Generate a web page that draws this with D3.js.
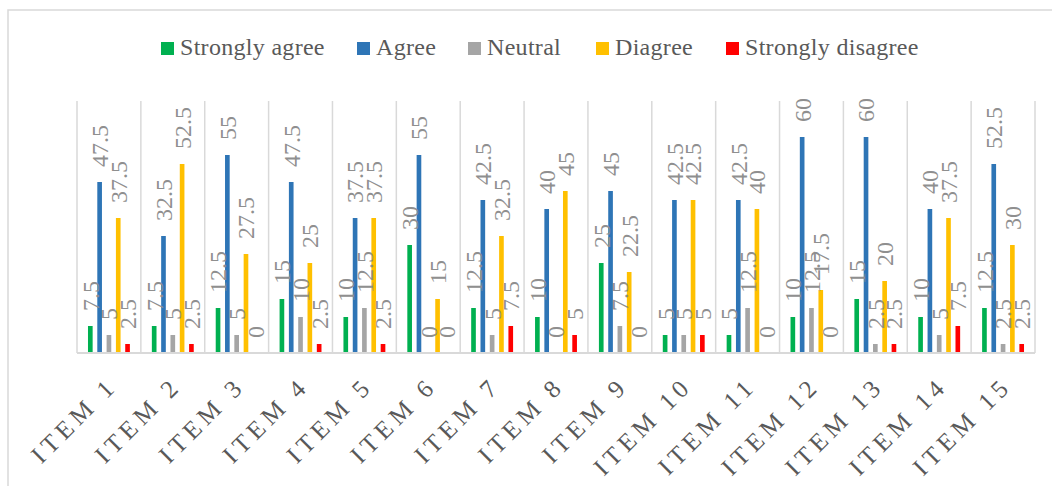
<!DOCTYPE html>
<html>
<head>
<meta charset="utf-8">
<script src="https://cdn.jsdelivr.net/npm/d3@7"></script>
<style>
  body { margin: 0; background: #fff; }
</style>
</head>
<body>
<svg id="chart"></svg>
<script>
// categories and series
const items = ["ITEM 1","ITEM 2","ITEM 3","ITEM 4","ITEM 5","ITEM 6","ITEM 7","ITEM 8",
               "ITEM 9","ITEM 10","ITEM 11","ITEM 12","ITEM 13","ITEM 14","ITEM 15"];
const seriesNames = ["Strongly agree","Agree","Neutral","Diagree","Strongly disagree"];
const seriesColors = ["#00b050","#2e75b6","#a5a5a5","#ffc000","#ff0000"];

const stronglyAgree    = [7.5, 7.5, 12.5, 15, 10, 30, 12.5, 10, 25, 5, 5, 10, 15, 10, 12.5];
const agree            = [47.5, 32.5, 55, 47.5, 37.5, 55, 42.5, 40, 45, 42.5, 42.5, 60, 60, 40, 52.5];
const neutral          = [5, 5, 5, 10, 12.5, 0, 5, 0, 7.5, 5, 12.5, 12.5, 2.5, 5, 2.5];
const diagree          = [37.5, 52.5, 27.5, 25, 37.5, 15, 32.5, 45, 22.5, 42.5, 40, 17.5, 20, 37.5, 30];
const stronglyDisagree = [2.5, 2.5, 0, 2.5, 2.5, 0, 7.5, 5, 0, 5, 0, 0, 2.5, 7.5, 2.5];

const seriesValues = [stronglyAgree, agree, neutral, diagree, stronglyDisagree];

const FONT = '"Liberation Serif"';

const config = {
    width: 1052,
    height: 486,
    margin: {top:101, right:17, bottom:133, left:77}
};

const svg = d3.select('#chart')
    .attr('width', config.width)
    .attr('height', config.height);

// outer frame of the chart area (cut off at right / bottom)
svg.append('rect')
    .attr('x', 8).attr('y', 10)
    .attr('width', 1200).attr('height', 600)
    .attr('fill', 'none')
    .attr('stroke', '#d9d9d9')
    .attr('stroke-width', 1.5);

const inner_width = config.width - config.margin.left - config.margin.right;
const inner_height = config.height - config.margin.top - config.margin.bottom;

const chart = svg.append('g')
    .attr('transform', `translate(${config.margin.left}, ${config.margin.top})`);

const x0 = d3.scaleBand()
    .domain(items)
    .range([0, inner_width])
    .padding(0);

const x1 = d3.scaleBand()
    .domain(seriesNames)
    .range([0, x0.bandwidth()])
    .paddingInner(0.5)
    .paddingOuter(1.18);

const yscale = d3.scaleLinear()
    .domain([0, 70])
    .range([inner_height, 0]);

// vertical category gridlines
const edges = items.map(d => x0(d)).concat([inner_width]);
chart.selectAll('.vgrid')
    .data(edges)
    .join('line')
    .attr('class', 'vgrid')
    .attr('x1', d => d).attr('x2', d => d)
    .attr('y1', 0).attr('y2', inner_height)
    .attr('stroke', '#d9d9d9')
    .attr('stroke-width', 1.5);

// table of bars
const table = [];
items.forEach((it, i) => {
    seriesNames.forEach((s, j) => {
        table.push({item: it, series: s, color: seriesColors[j], value: seriesValues[j][i]});
    });
});

chart.selectAll('.bar')
    .data(table)
    .join('rect')
    .attr('class', 'bar')
    .attr('x', d => x0(d.item) + x1(d.series))
    .attr('y', d => yscale(d.value))
    .attr('width', x1.bandwidth())
    .attr('height', d => inner_height - yscale(d.value))
    .attr('fill', d => d.color);

// data labels, rotated
chart.selectAll('.lbl')
    .data(table)
    .join('text')
    .attr('class', 'lbl')
    .attr('transform', d => {
        const cx = x0(d.item) + x1(d.series) + x1.bandwidth() / 2;
        const cy = yscale(d.value) - 15;
        return `translate(${cx}, ${cy}) rotate(-90)`;
    })
    .attr('dy', '0.35em')
    .attr('text-anchor', 'start')
    .style('font-family', FONT)
    .style('font-size', '24px')
    .attr('fill', '#8f8f8f')
    .text(d => d.value);

// x axis baseline
chart.append('line')
    .attr('x1', 0).attr('x2', inner_width)
    .attr('y1', inner_height).attr('y2', inner_height)
    .attr('stroke', '#d9d9d9')
    .attr('stroke-width', 2);

// category labels
chart.selectAll('.cat')
    .data(items)
    .join('text')
    .attr('class', 'cat')
    .attr('transform', d => `translate(${x0(d) + x0.bandwidth() / 2 + 10}, ${inner_height + 34}) rotate(-45)`)
    .attr('text-anchor', 'end')
    .style('font-family', FONT)
    .style('font-size', '25px')
    .style('letter-spacing', '5px')
    .attr('fill', '#595959')
    .text(d => d);

// legend
const legendX = [161, 357, 468, 596, 726];
const legend = svg.append('g');
seriesNames.forEach((s, j) => {
    legend.append('rect')
        .attr('x', legendX[j]).attr('y', 42)
        .attr('width', 13).attr('height', 13)
        .attr('fill', seriesColors[j]);
    legend.append('text')
        .attr('x', legendX[j] + 19).attr('y', 55)
        .style('font-family', FONT)
        .style('font-size', '24px')
        .style('letter-spacing', '0.3px')
        .attr('fill', '#595959')
        .text(s);
});
</script>
</body>
</html>
